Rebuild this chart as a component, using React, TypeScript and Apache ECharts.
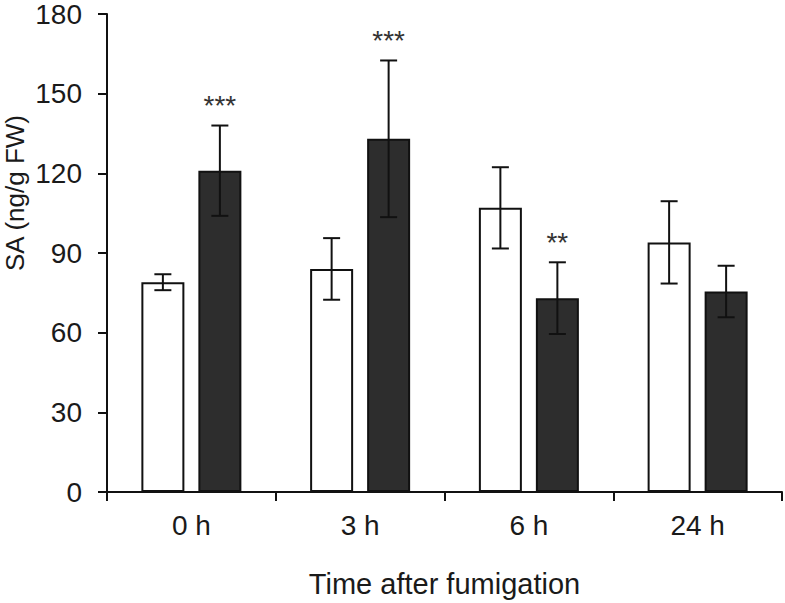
import React, { useEffect, useRef } from "react";
import * as echarts from "echarts";

const categories = ["0 h", "3 h", "6 h", "24 h"];
const controlMean = [79, 84, 107, 94];
const controlErr = [3, 11.6, 15.3, 15.5];
const treatedMean = [121, 133, 73, 75.5];
const treatedErr = [17, 29.5, 13.5, 9.7];
const significance = ["***", "***", "**", ""];
const yTicks = { min: 0, max: 180, interval: 30 };

const FONT = "'Liberation Sans', Arial, sans-serif";
const BAR_W = 43;
const GAP_PX = 14;
const CAP_HALF = 8.5;

function errorSeries(means: number[], errs: number[], sign: number, stars: string[] | null) {
  return {
    type: "custom",
    z: 5,
    silent: true,
    data: means.map((m, i) => [i, m, errs[i]]),
    encode: { x: 0, y: 1 },
    renderItem: (params: any, api: any) => {
      const i = api.value(0);
      const m = api.value(1);
      const e = api.value(2);
      const top = api.coord([i, m + e]);
      const bot = api.coord([i, m - e]);
      const x = top[0] + sign * (BAR_W + GAP_PX) / 2;
      const st = { stroke: "#111", lineWidth: 2 };
      const children: any[] = [
        { type: "line", shape: { x1: x, y1: top[1], x2: x, y2: bot[1] }, style: st },
        { type: "line", shape: { x1: x - CAP_HALF, y1: top[1], x2: x + CAP_HALF, y2: top[1] }, style: st },
        { type: "line", shape: { x1: x - CAP_HALF, y1: bot[1], x2: x + CAP_HALF, y2: bot[1] }, style: st },
      ];
      if (stars && stars[params.dataIndex]) {
        children.push({
          type: "text",
          style: {
            text: stars[params.dataIndex],
            x: x,
            y: top[1] - 20,
            textAlign: "center",
            textVerticalAlign: "middle",
            fill: "#333",
            font: `28px ${FONT}`,
          },
        });
      }
      return { type: "group", children };
    },
  };
}

export default function App() {
  const ref = useRef<HTMLDivElement>(null);
  useEffect(() => {
    document.body.style.margin = "0";
    const chart = echarts.init(ref.current!, null, { renderer: "svg" });
    chart.setOption({
      animation: false,
      backgroundColor: "#ffffff",
      grid: { left: 107, right: 3, top: 13, bottom: 108.5, containLabel: false },
      xAxis: {
        type: "category",
        data: categories,
        boundaryGap: true,
        axisLine: { lineStyle: { color: "#111", width: 2 } },
        axisTick: { show: true, length: 9, inside: false, alignWithLabel: false, lineStyle: { color: "#111", width: 2 } },
        axisLabel: { fontSize: 28, color: "#1a1a1a", fontFamily: FONT, margin: 19 },
        name: "Time after fumigation",
        nameLocation: "middle",
        nameGap: 77,
        nameTextStyle: { fontSize: 29, color: "#1a1a1a", fontFamily: FONT },
      },
      yAxis: {
        type: "value",
        min: yTicks.min,
        max: yTicks.max,
        interval: yTicks.interval,
        splitLine: { show: false },
        axisLine: { show: true, lineStyle: { color: "#111", width: 2 } },
        axisTick: { show: true, length: 9, inside: false, lineStyle: { color: "#111", width: 2 } },
        axisLabel: { fontSize: 28, color: "#1a1a1a", fontFamily: FONT, margin: 25 },
      },
      graphic: [
        {
          type: "text",
          x: 15,
          y: 193,
          rotation: Math.PI / 2,
          style: {
            text: "SA (ng/g FW)",
            textAlign: "center",
            textVerticalAlign: "middle",
            fill: "#1a1a1a",
            font: `26px ${FONT}`,
          },
        },
      ],
      series: [
        {
          type: "bar",
          name: "Control",
          data: controlMean,
          barWidth: BAR_W,
          barGap: `${(GAP_PX / BAR_W) * 100}%`,
          itemStyle: { color: "#ffffff", borderColor: "#111", borderWidth: 2 },
        },
        {
          type: "bar",
          name: "Fumigated",
          data: treatedMean,
          barWidth: BAR_W,
          barGap: `${(GAP_PX / BAR_W) * 100}%`,
          itemStyle: { color: "#2d2d2d", borderColor: "#111", borderWidth: 2 },
        },
        errorSeries(controlMean, controlErr, -1, null),
        errorSeries(treatedMean, treatedErr, 1, significance),
      ],
    });
    return () => chart.dispose();
  }, []);
  return <div ref={ref} style={{ width: 785, height: 603 }} />;
}
